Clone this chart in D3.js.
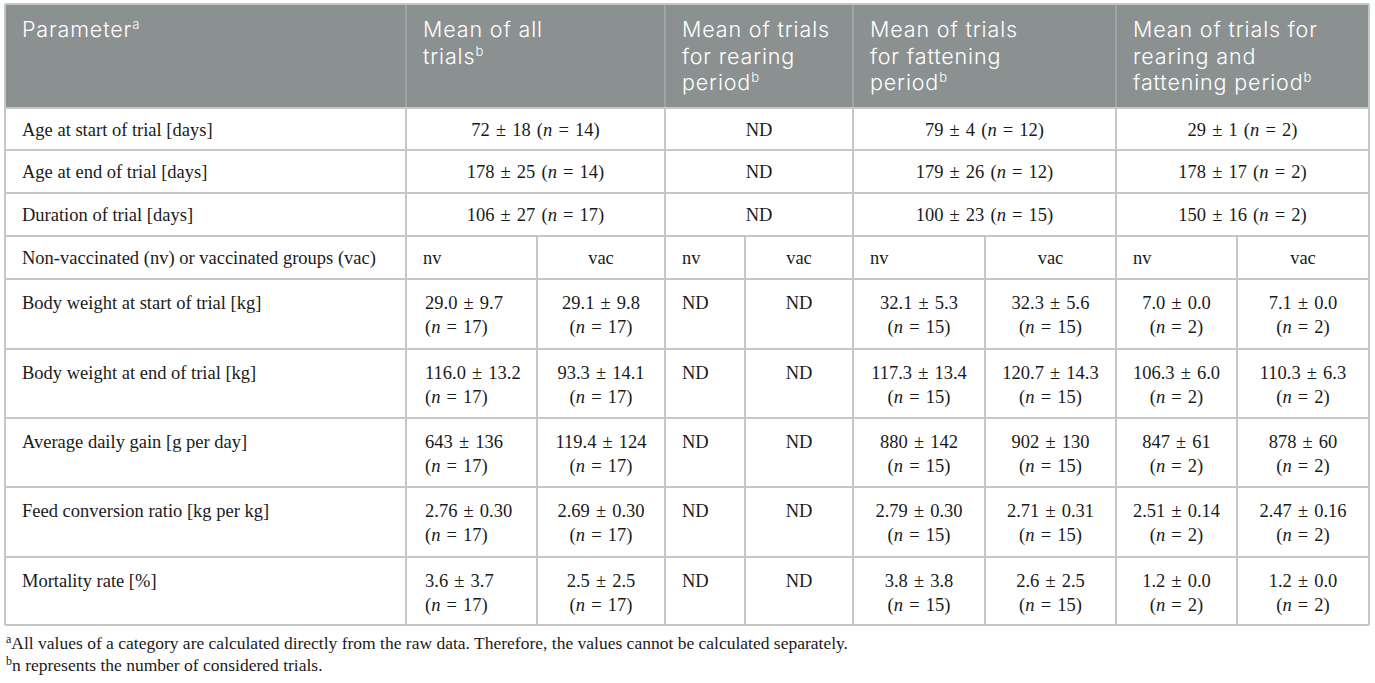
<!DOCTYPE html>
<html>
<head>
<meta charset="utf-8">
<script src="https://cdn.jsdelivr.net/npm/d3@7"></script>
<style>
  html, body { margin: 0; padding: 0; background: #fff; }
  svg { display: block; }
</style>
</head>
<body>
<svg id="chart" width="1375" height="683"></svg>
<script>
// ---------- DATA ----------
const headerLines = [
  [["Parameter", "a"]],
  [["Mean of all", ""], ["trials", "b"]],
  [["Mean of trials", ""], ["for rearing", ""], ["period", "b"]],
  [["Mean of trials", ""], ["for fattening", ""], ["period", "b"]],
  [["Mean of trials for", ""], ["rearing and", ""], ["fattening period", "b"]]
];
const parameters = [
  "Age at start of trial [days]",
  "Age at end of trial [days]",
  "Duration of trial [days]",
  "Non-vaccinated (nv) or vaccinated groups (vac)",
  "Body weight at start of trial [kg]",
  "Body weight at end of trial [kg]",
  "Average daily gain [g per day]",
  "Feed conversion ratio [kg per kg]",
  "Mortality rate [%]"
];
// merged rows (one value per period column)
const ageStart = ["72 ± 18 (n = 14)", "ND", "79 ± 4 (n = 12)", "29 ± 1 (n = 2)"];
const ageEnd   = ["178 ± 25 (n = 14)", "ND", "179 ± 26 (n = 12)", "178 ± 17 (n = 2)"];
const duration = ["106 ± 27 (n = 17)", "ND", "100 ± 23 (n = 15)", "150 ± 16 (n = 2)"];
// group row
const groups = ["nv", "vac", "nv", "vac", "nv", "vac", "nv", "vac"];
// split rows: [value, n] per group column
const bodyWeightStart = [["29.0 ± 9.7", 17], ["29.1 ± 9.8", 17], ["ND"], ["ND"], ["32.1 ± 5.3", 15], ["32.3 ± 5.6", 15], ["7.0 ± 0.0", 2], ["7.1 ± 0.0", 2]];
const bodyWeightEnd   = [["116.0 ± 13.2", 17], ["93.3 ± 14.1", 17], ["ND"], ["ND"], ["117.3 ± 13.4", 15], ["120.7 ± 14.3", 15], ["106.3 ± 6.0", 2], ["110.3 ± 6.3", 2]];
const dailyGain       = [["643 ± 136", 17], ["119.4 ± 124", 17], ["ND"], ["ND"], ["880 ± 142", 15], ["902 ± 130", 15], ["847 ± 61", 2], ["878 ± 60", 2]];
const feedConversion  = [["2.76 ± 0.30", 17], ["2.69 ± 0.30", 17], ["ND"], ["ND"], ["2.79 ± 0.30", 15], ["2.71 ± 0.31", 15], ["2.51 ± 0.14", 2], ["2.47 ± 0.16", 2]];
const mortality       = [["3.6 ± 3.7", 17], ["2.5 ± 2.5", 17], ["ND"], ["ND"], ["3.8 ± 3.8", 15], ["2.6 ± 2.5", 15], ["1.2 ± 0.0", 2], ["1.2 ± 0.0", 2]];
const footnotes = [
  ["a", "All values of a category are calculated directly from the raw data. Therefore, the values cannot be calculated separately."],
  ["b", "n represents the number of considered trials."]
];

// ---------- LAYOUT ----------
const svg = d3.select("#chart");
const colEdges = [5, 406, 537, 665, 745, 853, 985, 1116, 1237, 1369];
const rowEdges = [4, 108, 150, 193, 236, 279, 349, 418, 487, 557, 625];
const mainCols = [0, 1, 3, 5, 7, 9];
const sansFont = "Inter, 'Open Sans', sans-serif";
const serifFont = "'Liberation Serif', 'DejaVu Serif', serif";
const bodySize = 18.5;
const lineColor = "#c6c6c6";
const headerBg = "#8b9191";

const x = i => colEdges[i];
const y = i => rowEdges[i];

// header background
svg.append("rect").attr("x", x(0)).attr("y", y(0))
  .attr("width", x(9) - x(0)).attr("height", y(1) - y(0)).attr("fill", headerBg);

// header text
const hdr = svg.append("g").attr("font-family", sansFont).attr("font-size", 21.5)
  .attr("font-weight", 300).attr("letter-spacing", 0.85).attr("fill", "#fff");
const lineStep = 26.7;
headerLines.forEach((lines, c) => {
  const left = x(mainCols[c]) + 17;
  lines.forEach((ln, k) => {
    const t = hdr.append("text").attr("x", left).attr("y", 37 + k * lineStep);
    t.append("tspan").text(ln[0]);
    if (ln[1]) t.append("tspan").attr("font-size", 13).attr("letter-spacing", 0).attr("dy", -8).text(ln[1]);
  });
});

// helper to write value text with italic n
function writeValue(sel, str) {
  sel.attr("word-spacing", 1.5);
  const parts = str.split(/(\bn\b)/);
  parts.forEach(p => {
    if (p === "n") sel.append("tspan").attr("font-style", "italic").text("n");
    else if (p) sel.append("tspan").text(p);
  });
}

const body = svg.append("g").attr("font-family", serifFont).attr("font-size", bodySize).attr("fill", "#1a1a1a");

// parameter labels
parameters.forEach((p, r) => {
  const top = y(r + 1);
  const single = r < 4;
  body.append("text").attr("x", x(0) + 17).attr("y", top + (single ? 27.5 : 30)).text(p);
});

// merged rows
[ageStart, ageEnd, duration].forEach((vals, r) => {
  const top = y(r + 1);
  vals.forEach((v, c) => {
    const cx = (x(mainCols[c + 1]) + x(mainCols[c + 2])) / 2;
    const t = body.append("text").attr("x", cx).attr("y", top + 27.5).attr("text-anchor", "middle");
    writeValue(t, v);
  });
});

// group row
const leftAligned = [true, false, true, false, false, false, false, false];
groups.forEach((g, c) => {
  const top = y(4);
  const isNv = c % 2 === 0;
  const px = isNv ? x(c + 1) + 17 : (x(c + 1) + x(c + 2)) / 2;
  body.append("text").attr("x", px).attr("y", top + 27.5)
    .attr("text-anchor", isNv ? "start" : "middle").text(g);
});

// split value rows
[bodyWeightStart, bodyWeightEnd, dailyGain, feedConversion, mortality].forEach((vals, r) => {
  const top = y(r + 5);
  vals.forEach((v, c) => {
    const la = leftAligned[c];
    const px = la ? x(c + 1) + (c === 0 ? 19 : 17) : (x(c + 1) + x(c + 2)) / 2;
    const t1 = body.append("text").attr("x", px).attr("y", top + 30).attr("text-anchor", la ? "start" : "middle");
    writeValue(t1, v[0]);
    if (v.length > 1) {
      const t2 = body.append("text").attr("x", px).attr("y", top + 54).attr("text-anchor", la ? "start" : "middle");
      writeValue(t2, "(n = " + v[1] + ")");
    }
  });
});

// grid lines
const grid = svg.append("g").attr("stroke", lineColor).attr("stroke-width", 2).attr("fill", "none");
rowEdges.forEach(ry => {
  grid.append("line").attr("x1", x(0)).attr("x2", x(9)).attr("y1", ry).attr("y2", ry);
});
[0, 9].forEach(i => grid.append("line").attr("x1", x(i)).attr("x2", x(i)).attr("y1", y(0)).attr("y2", y(10)));
[1, 3, 5, 7].forEach(i => {
  grid.append("line").attr("x1", x(i)).attr("x2", x(i)).attr("y1", y(1)).attr("y2", y(10));
  svg.append("line").attr("x1", x(i)).attr("x2", x(i)).attr("y1", y(0) + 1).attr("y2", y(1) - 1)
    .attr("stroke", "#a6abab").attr("stroke-width", 1.5);
});
[2, 4, 6, 8].forEach(i => {
  grid.append("line").attr("x1", x(i)).attr("x2", x(i)).attr("y1", y(4)).attr("y2", y(10));
});

// footnotes
const fn = svg.append("g").attr("font-family", serifFont).attr("font-size", 17.5).attr("fill", "#1a1a1a");
footnotes.forEach((f, k) => {
  const t = fn.append("text").attr("x", 6).attr("y", 649 + k * 22);
  t.append("tspan").attr("font-size", 12).attr("dy", -6).text(f[0]);
  t.append("tspan").attr("dy", 6).text(f[1]);
});
</script>
</body>
</html>
